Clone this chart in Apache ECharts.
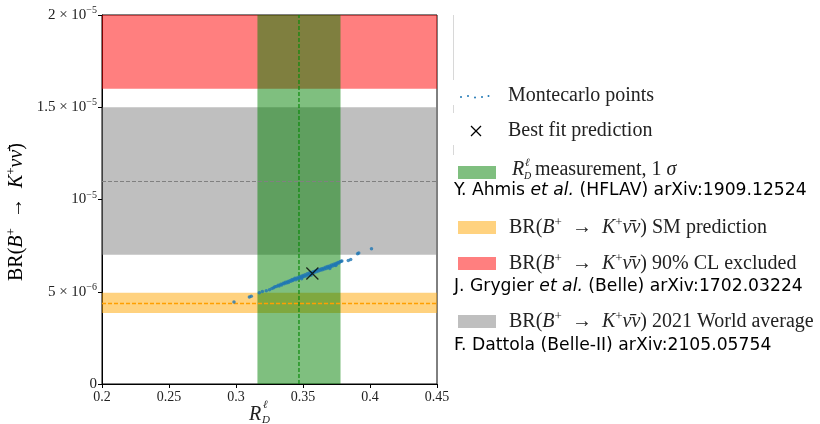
<!DOCTYPE html>
<html>
<head>
<meta charset="utf-8">
<script src="https://cdn.jsdelivr.net/npm/echarts@6/dist/echarts.min.js"></script>
<style>
  html, body { margin: 0; padding: 0; background: #fff; }
  #chartmain { width: 820px; height: 424px; }
</style>
</head>
<body>
<div id="chartmain"></div>
<script>
// tick labels
var xTickLabels = ['0.2', '0.25', '0.3', '0.35', '0.4', '0.45'];
var yTickLabels = ['{n|0}', '{n|5 × 10}{s|−6}', '{n|10}{s|−5}', '{n|1.5 × 10}{s|−5}', '{n|2 × 10}{s|−5}'];

// bands (BR in units of 1e-6)
var excludedBand = [16, 20];
var worldAvgBand = [7, 15];
var worldAvgCentral = 11;
var smBand = [3.85, 4.95];
var smCentral = 4.4;
var rdBand = [0.316, 0.378];
var rdCentral = 0.347;

// best fit
var bestFit = [0.357, 5.99];

// montecarlo points: R_D and BR (1e-6)
var mcRD = [
  0.2985, 0.3100, 0.3114, 0.3174, 0.3197, 0.3226, 0.3250,
  0.3268, 0.3281, 0.3290, 0.3302, 0.3315, 0.3322, 0.3334, 0.3341, 0.3352, 0.3360,
  0.3368, 0.3377, 0.3386, 0.3392, 0.3401, 0.3410, 0.3418, 0.3425, 0.3433, 0.3440,
  0.3447, 0.3455, 0.3462, 0.3470, 0.3478, 0.3486, 0.3490, 0.3493, 0.3500, 0.3507,
  0.3515, 0.3523, 0.3531, 0.3538, 0.3546, 0.3553, 0.3560, 0.3561, 0.3569, 0.3577,
  0.3584, 0.3592, 0.3600, 0.3607, 0.3615, 0.3622, 0.3630, 0.3638, 0.3645, 0.3653,
  0.3660, 0.3668, 0.3675, 0.3683, 0.3690, 0.3698, 0.3700, 0.3706, 0.3713, 0.3721,
  0.3729, 0.3736, 0.3744, 0.3745, 0.3752, 0.3760, 0.3768, 0.3776, 0.3784, 0.3790,
  0.3838, 0.3856, 0.3907, 0.3916, 0.4011
];
var mcBR = [
  4.45, 4.72, 4.76, 4.95, 5.01, 5.06, 5.11,
  5.17, 5.22, 5.27, 5.29, 5.35, 5.31, 5.40, 5.37, 5.46, 5.44,
  5.51, 5.48, 5.56, 5.50, 5.59, 5.57, 5.66, 5.61, 5.68, 5.73,
  5.65, 5.75, 5.71, 5.80, 5.76, 5.84, 5.70, 5.78, 5.88, 5.83,
  5.92, 5.86, 5.97, 5.91, 6.01, 5.94, 5.90, 6.05, 5.99, 6.08,
  6.04, 6.13, 6.08, 6.17, 6.12, 6.20, 6.16, 6.25, 6.19, 6.28,
  6.23, 6.33, 6.26, 6.37, 6.32, 6.40, 6.26, 6.35, 6.45, 6.40,
  6.49, 6.44, 6.53, 6.42, 6.50, 6.58, 6.56, 6.62, 6.65, 6.67,
  6.70, 6.75, 7.06, 7.10, 7.33
];

var mcData = [];
for (var i = 0; i < mcRD.length; i++) {
    mcData.push([mcRD[i], mcBR[i]]);
}

var serif = 'Liberation Serif';
var sans = 'DejaVu Sans';
var blue = '#0000ff';
var arrow = '\u2002→\u2002';

var brRich = {
    n: { fontFamily: serif, fontSize: 20, color: '#222', lineHeight: 24 },
    i: { fontFamily: serif, fontSize: 20, fontStyle: 'italic', color: '#222', lineHeight: 24 },
    s: { fontFamily: serif, fontSize: 13, color: '#222', lineHeight: 13, verticalAlign: 'top' }
};

function legendText(x, y, txt) {
    return { type: 'text', x: x, y: y, style: { text: txt, rich: brRich, verticalAlign: 'middle', fill: '#222' } };
}
function legendRect(y, color) {
    return { type: 'rect', shape: { x: 458, y: y, width: 38, height: 13 }, style: { fill: color } };
}
function refText(y, parts) {
    return { type: 'text', x: 454, y: y, style: { text: parts, verticalAlign: 'middle',
        rich: {
            a: { fontFamily: sans, fontSize: 17.2, color: blue },
            b: { fontFamily: sans, fontSize: 17.2, color: blue, fontStyle: 'italic' }
        } } };
}
function dashLine(name, item, color, width) {
    return {
        name: name, type: 'line', data: [], z: 3, silent: true,
        color: color,
        itemStyle: { color: color },
        lineStyle: { color: color },
        markLine: {
            silent: true, symbol: ['none', 'none'], label: { show: false },
            lineStyle: { color: color, type: [4, 2], width: width, opacity: 1 },
            emphasis: { disabled: true },
            data: [item]
        }
    };
}

var option = {
    animation: false,
    grid: {
        left: 102, top: 15, width: 335, height: 369,
        show: true, borderColor: '#000', borderWidth: 1,
        outerBoundsMode: 'none'
    },
    xAxis: {
        type: 'value', min: 0.2, max: 0.45, interval: 0.05,
        axisLine: { lineStyle: { color: '#000', width: 1 } },
        axisTick: { inside: false, length: 4, lineStyle: { color: '#000' } },
        splitLine: { show: false },
        axisLabel: {
            color: '#222', fontFamily: serif, fontSize: 14, margin: 6,
            formatter: function (v) { return xTickLabels[Math.round((v - 0.2) / 0.05)]; }
        }
    },
    yAxis: {
        type: 'value', min: 0, max: 20, interval: 5,
        axisLine: { show: true, lineStyle: { color: '#000', width: 1 } },
        axisTick: { show: true, inside: false, length: 4, lineStyle: { color: '#000' } },
        splitLine: { show: false },
        axisLabel: {
            margin: 5,
            formatter: function (v) { return yTickLabels[Math.round(v / 5)]; },
            rich: {
                n: { fontFamily: serif, fontSize: 15, color: '#222', lineHeight: 19 },
                s: { fontFamily: serif, fontSize: 10, color: '#222', lineHeight: 10, verticalAlign: 'top' }
            }
        }
    },
    series: [
        {
            name: 'bands', type: 'line', data: [], z: 1, silent: true,
            markArea: {
                silent: true,
                data: [
                    [{ yAxis: excludedBand[0], itemStyle: { color: 'rgba(255,0,0,0.5)' } }, { yAxis: excludedBand[1] }],
                    [{ yAxis: worldAvgBand[0], itemStyle: { color: 'rgba(128,128,128,0.5)' } }, { yAxis: worldAvgBand[1] }],
                    [{ yAxis: smBand[0], itemStyle: { color: 'rgba(255,165,0,0.5)' } }, { yAxis: smBand[1] }]
                ]
            }
        },
        {
            name: 'rd', type: 'line', data: [], z: 2, silent: true,
            markArea: {
                silent: true,
                data: [
                    [{ xAxis: rdBand[0], itemStyle: { color: 'rgba(0,128,0,0.5)' } }, { xAxis: rdBand[1] }]
                ]
            }
        },
        dashLine('wa', { yAxis: worldAvgCentral }, '#808080', 1),
        dashLine('sm', { yAxis: smCentral }, '#ff9f00', 1.3),
        {
            name: 'rdc', type: 'line', z: 3, silent: true,
            data: [[rdCentral, 0], [rdCentral, 20]],
            symbol: 'none',
            lineStyle: { color: '#0a8a0a', type: [4, 2], width: 1.2 },
            emphasis: { disabled: true }
        },
        {
            name: 'Montecarlo points', type: 'scatter', data: mcData, z: 5,
            symbol: 'circle', symbolSize: 3.5,
            itemStyle: { color: '#1f77b4' }
        },
        {
            name: 'Best fit prediction', type: 'scatter', data: [bestFit], z: 6,
            symbol: 'path://M0,0L10,10M10,0L0,10', symbolSize: 12,
            itemStyle: { color: 'none', borderColor: '#000', borderWidth: 1.3 }
        }
    ],
    graphic: [
        // y axis name
        { type: 'text', x: 17, y: 212, rotation: Math.PI / 2,
          style: { text: '{n|BR(}{i|B}{s|+}{n|' + arrow + '}{i|K}{s|+}{i|νν̄}{n|)}', rich: brRich, align: 'center', verticalAlign: 'middle' } },

        // x axis name R_D^l
        { type: 'text', x: 249, y: 415, style: { text: 'R', fontFamily: serif, fontStyle: 'italic', fontSize: 20, fill: '#222', verticalAlign: 'middle' } },
        { type: 'text', x: 263, y: 405, style: { text: 'ℓ', fontFamily: serif, fontStyle: 'italic', fontSize: 11, fill: '#222', verticalAlign: 'middle' } },
        { type: 'text', x: 262, y: 420, style: { text: 'D', fontFamily: serif, fontStyle: 'italic', fontSize: 11, fill: '#222', verticalAlign: 'middle' } },

        // legend frame remnants
        { type: 'line', shape: { x1: 453.5, y1: 15, x2: 453.5, y2: 80 }, style: { stroke: '#d8d8d8', lineWidth: 1 } },
        { type: 'line', shape: { x1: 453.5, y1: 105, x2: 453.5, y2: 113 }, style: { stroke: '#d8d8d8', lineWidth: 1 } },
        { type: 'line', shape: { x1: 453.5, y1: 145, x2: 453.5, y2: 155 }, style: { stroke: '#d8d8d8', lineWidth: 1 } },

        // montecarlo legend
        { type: 'circle', shape: { cx: 461, cy: 97, r: 1 }, style: { fill: '#1f77b4' } },
        { type: 'circle', shape: { cx: 468, cy: 96, r: 1 }, style: { fill: '#1f77b4' } },
        { type: 'circle', shape: { cx: 475, cy: 97.5, r: 1 }, style: { fill: '#1f77b4' } },
        { type: 'circle', shape: { cx: 482, cy: 97, r: 1 }, style: { fill: '#1f77b4' } },
        { type: 'circle', shape: { cx: 488.5, cy: 96, r: 1 }, style: { fill: '#1f77b4' } },
        legendText(508, 96, '{n|Montecarlo points}'),

        // best fit legend
        { type: 'polyline', shape: { points: [[471, 126], [481, 136]] }, style: { stroke: '#000', lineWidth: 1.3 } },
        { type: 'polyline', shape: { points: [[481, 126], [471, 136]] }, style: { stroke: '#000', lineWidth: 1.3 } },
        legendText(508, 131, '{n|Best fit prediction}'),

        // R_D measurement
        legendRect(166, 'rgba(0,128,0,0.5)'),
        { type: 'text', x: 512, y: 170, style: { text: 'R', fontFamily: serif, fontStyle: 'italic', fontSize: 20, fill: '#222', verticalAlign: 'middle' } },
        { type: 'text', x: 525, y: 163, style: { text: 'ℓ', fontFamily: serif, fontStyle: 'italic', fontSize: 11, fill: '#222', verticalAlign: 'middle' } },
        { type: 'text', x: 524, y: 176, style: { text: 'D', fontFamily: serif, fontStyle: 'italic', fontSize: 10, fill: '#222', verticalAlign: 'middle' } },
        legendText(535, 170, '{n|measurement, 1 }{i|σ}'),
        refText(191, '{a|Y. Ahmis }{b|et al.}{a| (HFLAV) arXiv:1909.12524}'),

        // SM prediction
        legendRect(221, 'rgba(255,165,0,0.5)'),
        legendText(509, 228, '{n|BR(}{i|B}{s|+}{n|' + arrow + '}{i|K}{s|+}{i|ν̄ν}{n|) SM prediction}'),

        // excluded
        legendRect(257, 'rgba(255,0,0,0.5)'),
        legendText(509, 264, '{n|BR(}{i|B}{s|+}{n|' + arrow + '}{i|K}{s|+}{i|ν̄ν}{n|) 90% CL excluded}'),
        refText(287, '{a|J. Grygier }{b|et al.}{a| (Belle) arXiv:1702.03224}'),

        // world average
        legendRect(315, 'rgba(128,128,128,0.5)'),
        legendText(509, 322, '{n|BR(}{i|B}{s|+}{n|' + arrow + '}{i|K}{s|+}{i|ν̄ν}{n|) 2021 World average}'),
        refText(346, '{a|F. Dattola (Belle-II) arXiv:2105.05754}')
    ]
};

var myChart = echarts.init(document.getElementById('chartmain'));
myChart.setOption(option);
</script>
</body>
</html>
